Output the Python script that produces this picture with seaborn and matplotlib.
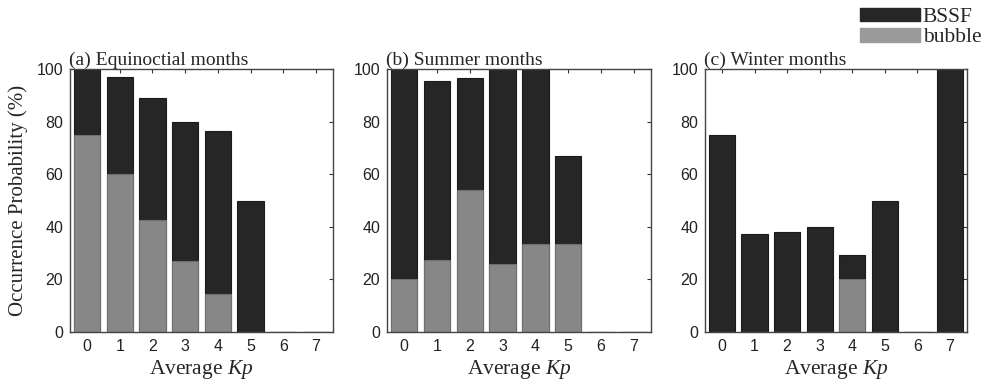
import numpy as np
import pandas as pd
import matplotlib
matplotlib.use("Agg")
import matplotlib.pyplot as plt
from matplotlib.patches import Patch
import seaborn as sns

kp = [0, 1, 2, 3, 4, 5, 6, 7]
kp_labels = ["0", "1", "2", "3", "4", "5", "6", "7"]

eq_total = [100, 97, 89, 80, 76.5, 50, 0, 0]
eq_bubble = [75, 60, 42.5, 27, 14.5, 0, 0, 0]
su_total = [100, 95.5, 96.5, 100, 100, 67, 0, 0]
su_bubble = [20, 27.3, 54, 26, 33.5, 33.5, 0, 0]
wi_total = [75, 37.3, 38.2, 40, 29.3, 50, 0, 100]
wi_bubble = [0, 0, 0, 0, 20, 0, 0, 0]

titles = ["(a) Equinoctial months", "(b) Summer months", "(c) Winter months"]
yticks = [0, 20, 40, 60, 80, 100]
legend_labels = ["BSSF", "bubble"]

DARK = "#262626"
GRAY = "#878787"

sns.set_style("white")
serif = ["Liberation Serif", "DejaVu Serif"]
sans = ["Liberation Sans", "DejaVu Sans"]
plt.rcParams["font.family"] = sans
plt.rcParams["mathtext.fontset"] = "custom"
plt.rcParams["mathtext.it"] = "Liberation Serif:italic"
plt.rcParams["mathtext.rm"] = "Liberation Serif"

fig = plt.figure(figsize=(9.89, 3.87), dpi=100)
W, H = 989, 387
boxes = [(70, 333), (387, 651), (705, 967)]
top, bottom = 69, 332

series = [(eq_total, eq_bubble), (su_total, su_bubble), (wi_total, wi_bubble)]

for i, ((l, r), (tot, bub), title) in enumerate(zip(boxes, series, titles)):
    ax = fig.add_axes([l / W, 1 - bottom / H, (r - l) / W, (bottom - top) / H])
    df = pd.DataFrame({"kp": kp_labels, "total": tot, "bubble": bub})
    sns.barplot(data=df, x="kp", y="total", order=kp_labels, color=DARK,
                saturation=1, width=0.8, edgecolor="#1a1a1a", linewidth=0.8, ax=ax)
    sns.barplot(data=df, x="kp", y="bubble", order=kp_labels, color=GRAY,
                saturation=1, width=0.8, edgecolor="#6e6e6e", linewidth=0.8, ax=ax)
    ax.set_xlim(-0.52, 7.52)
    ax.set_ylim(0, 100)
    ax.set_yticks(yticks)
    ax.set_yticklabels([str(v) for v in yticks], fontsize=11.5, family=sans)
    ax.set_xticks(range(len(kp_labels)))
    ax.set_xticklabels(kp_labels, fontsize=11.5, family=sans)
    ax.tick_params(direction="in", top=True, right=True, length=3, width=0.8,
                   colors="#333333", pad=5)
    ax.tick_params(axis="both", labelcolor="#222222")
    for s in ax.spines.values():
        s.set_visible(True)
        s.set_color("#444444")
        s.set_linewidth(1.0)
    ax.set_xlabel("Average $\\mathit{Kp}$", fontsize=15.5, family=serif, labelpad=3)
    if i == 0:
        ax.set_ylabel("Occurrence Probability (%)", fontsize=15, family=serif, labelpad=6)
    else:
        ax.set_ylabel("")
    ax.set_title(title, loc="left", fontsize=14, family=serif, pad=3, x=-0.005)

handles = [Patch(facecolor=DARK, edgecolor=DARK), Patch(facecolor="#9a9a9a", edgecolor="#9a9a9a")]
fig.legend(handles, legend_labels, loc="upper right", bbox_to_anchor=(1.0, 1.0),
           frameon=False, prop={"family": serif, "size": 15.5}, handlelength=2.8,
           handleheight=0.6, handletextpad=0.12, labelspacing=0.05, borderaxespad=0.1,
           borderpad=0.25)

fig.savefig("out.png", dpi=100)
